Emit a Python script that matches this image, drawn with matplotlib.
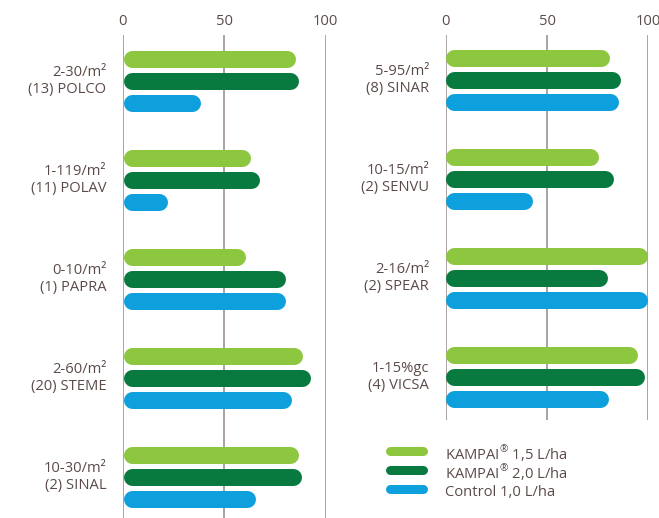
import numpy as np
import matplotlib
matplotlib.use("Agg")
import matplotlib.pyplot as plt
from matplotlib.lines import Line2D
from matplotlib.transforms import ScaledTranslation

plt.rcParams["font.family"] = ["Open Sans", "DejaVu Sans"]
plt.rcParams["mathtext.fontset"] = "custom"
plt.rcParams["mathtext.rm"] = "Open Sans"

text_col = "#5b4b48"
grid_col = "#a49c98"
colors = ["#8dc63f", "#087a3f", "#0ea0dc"]

series = ["KAMPAI$^{\\circledR}$ 1,5 L/ha", "KAMPAI$^{\\circledR}$ 2,0 L/ha", "Control 1,0 L/ha"]

left_labels = ["2-30/m\u00b2\n(13) POLCO", "1-119/m\u00b2\n(11) POLAV", "0-10/m\u00b2\n(1) PAPRA",
               "2-60/m\u00b2\n(20) STEME", "10-30/m\u00b2\n(2) SINAL"]
left_k15 = [85, 63, 60.5, 88.5, 86.5]
left_k20 = [86.5, 67.5, 80, 92.5, 88]
left_ctl = [38.5, 22, 80, 83, 65.5]

right_labels = ["5-95/m\u00b2\n(8) SINAR", "10-15/m\u00b2\n(2) SENVU", "2-16/m\u00b2\n(2) SPEAR",
                "1-15%gc\n(4) VICSA"]
right_k15 = [81, 75.5, 99.5, 94.5]
right_k20 = [86.5, 83, 80, 98]
right_ctl = [85.5, 43, 99.5, 80.5]

W, H = 659, 518
fig = plt.figure(figsize=(W / 100, H / 100), dpi=100)

px_per_unit = 2.025
bar_px = 17
r = bar_px / 2 / px_per_unit
offset = 22 / 99
fs = 10.6


def panel(rect, labels, vals, ylim):
    ax = fig.add_axes(rect)
    ys = np.arange(len(labels))
    for k, v in enumerate(vals):
        v = np.asarray(v)
        ax.hlines(ys + (k - 1) * offset, r, v - r, colors=colors[k],
                  linewidth=bar_px * 0.72, capstyle="round", zorder=3)
    ax.set_xlim(0, 100)
    ax.set_ylim(*ylim)
    for gx in [0, 50, 100]:
        ax.axvline(gx, color=grid_col, lw=1.3, zorder=1)
    ax.xaxis.tick_top()
    ax.set_xticks([0, 50, 100])
    ax.set_xticklabels(["0", "50", "100"])
    ax.set_yticks(ys)
    ax.set_yticklabels(labels, multialignment="right", linespacing=1.22)
    ax.tick_params(length=0, labelsize=fs, colors=text_col)
    ax.tick_params(axis="x", pad=4)
    ax.tick_params(axis="y", pad=12)
    shift = ScaledTranslation(0, 3.5 / 100, fig.dpi_scale_trans)
    for lab in ax.get_yticklabels():
        lab.set_transform(lab.get_transform() + shift)
    for s in ax.spines.values():
        s.set_visible(False)
    ax.patch.set_alpha(0)
    return ax


ax1 = panel([123 / W, 0, 202.5 / W, 483 / H], left_labels,
            [left_k15, left_k20, left_ctl], (4.414, -0.465))
ax2 = panel([445.7 / W, 98 / H, 202.6 / W, 385 / H], right_labels,
            [right_k15, right_k20, right_ctl], (3.43, -0.455))

# legend
leg_rows = [451, 470, 489]
for c, name, yp in zip(colors, series, leg_rows):
    fig.add_artist(Line2D([389.5 / W, 423.5 / W], [1 - yp / H, 1 - yp / H], color=c,
                          lw=6.5, solid_capstyle="round", transform=fig.transFigure))
    fig.text(445 / W, 1 - (yp + 1) / H, name, fontsize=fs, color=text_col, va="center_baseline")

fig.savefig("out.png", dpi=100)
